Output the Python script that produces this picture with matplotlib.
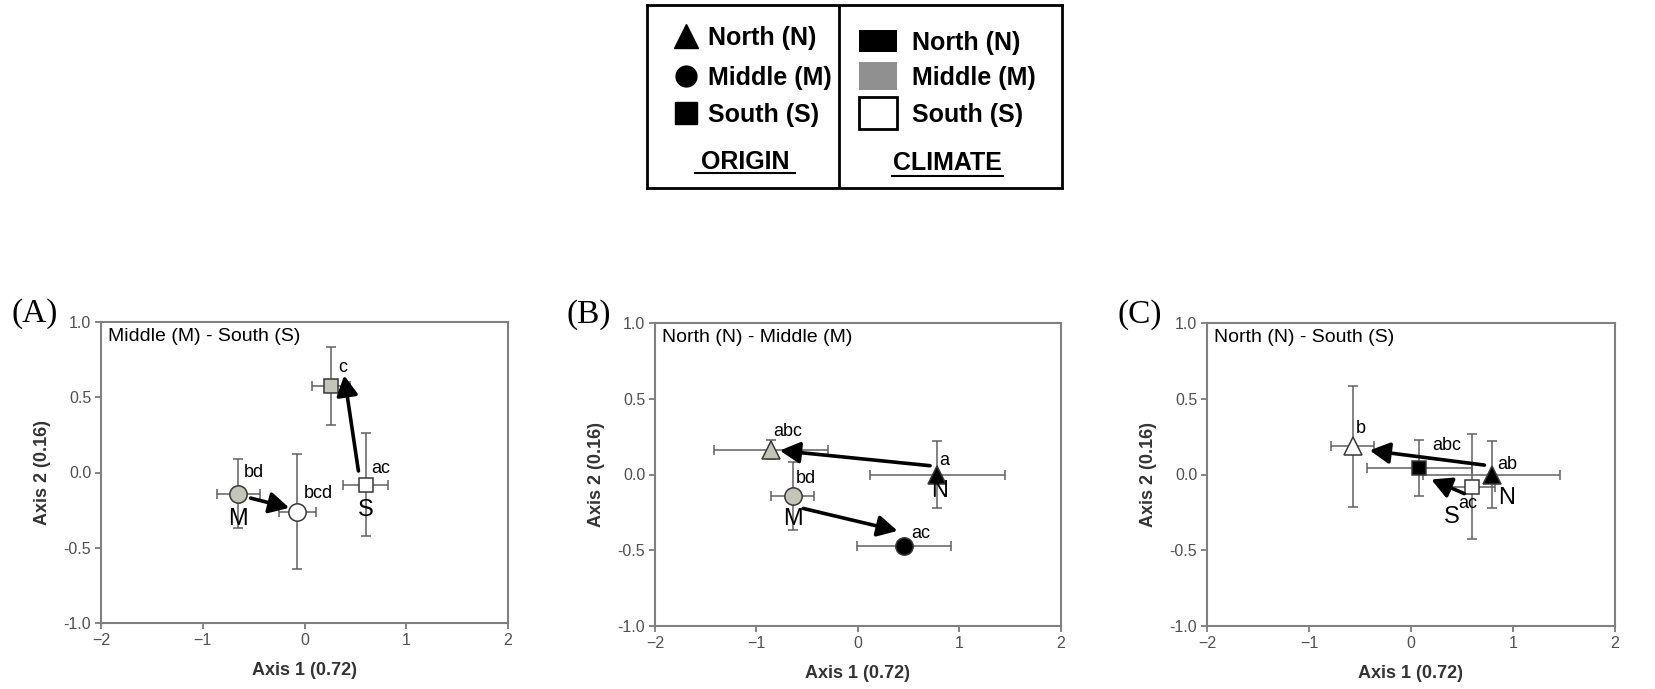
import matplotlib.pyplot as plt
from matplotlib.patches import Rectangle

plt.rcParams['font.family'] = ['Liberation Sans', 'DejaVu Sans']

# Ordination scores (mean +/- error) for each origin x climate combination

# (A) Middle (M) - South (S)
a_origin = ['M', 'M', 'S', 'S']
a_climate = ['M', 'S', 'M', 'S']
a_x = [-0.65, -0.07, 0.26, 0.60]
a_y = [-0.14, -0.26, 0.575, -0.08]
a_xerr = [0.21, 0.18, 0.19, 0.22]
a_yerr = [0.23, 0.38, 0.26, 0.345]
a_groups = ['bd', 'bcd', 'c', 'ac']
a_sites = ['M', '', '', 'S']
a_arrows = [((-0.53, -0.17), (-0.15, -0.235)),
            ((0.53, 0.01), (0.39, 0.645))]

# (B) North (N) - Middle (M)
b_origin = ['N', 'N', 'M', 'M']
b_climate = ['N', 'M', 'M', 'N']
b_x = [0.78, -0.86, -0.645, 0.455]
b_y = [0.0, 0.165, -0.14, -0.47]
b_xerr = [0.665, 0.56, 0.21, 0.46]
b_yerr = [0.22, 0.065, 0.225, 0.0]
b_groups = ['a', 'abc', 'bd', 'ac']
b_sites = ['N', '', 'M', '']
b_arrows = [((0.71, 0.058), (-0.77, 0.158)),
            ((-0.54, -0.224), (0.39, -0.372))]

# (C) North (N) - South (S)
c_origin = ['N', 'N', 'S', 'S']
c_climate = ['N', 'S', 'S', 'N']
c_x = [0.79, -0.57, 0.60, 0.08]
c_y = [0.0, 0.185, -0.08, 0.04]
c_xerr = [0.67, 0.21, 0.22, 0.515]
c_yerr = [0.22, 0.40, 0.345, 0.185]
c_groups = ['ab', 'b', 'ac', 'abc']
c_sites = ['N', '', 'S', '']
c_arrows = [((0.72, 0.062), (-0.405, 0.159)),
            ((0.523, -0.126), (0.199, -0.033))]

x_ticks = [-2, -1, 0, 1, 2]
y_ticks = [-1.0, -0.5, 0.0, 0.5, 1.0]

# styles
shape = {'N': '^', 'M': 'o', 'S': 's'}
msize = {'N': 13, 'M': 12.5, 'S': 10.5}
fill = {'N': 'black', 'M': '#c4c4b8', 'S': 'white'}

# letter / site label offsets in points
a_group_off = [(10.8, 15), (14.9, 13.2), (8.2, 13.2), (10.8, 11.3)]
a_site_off = [(0, -18.5), None, None, (0, -18)]
b_group_off = [(4.8, 10.3), (12.5, 12.7), (9.6, 12.7), (12, 8.9)]
b_site_off = [(1.9, -12), None, (0.5, -16.8), None]
c_group_off = [(11.3, 7.4), (5.5, 12.7), (-2.9, -12), (19.9, 16.6)]
c_site_off = [(10.6, -16.6), None, (-14.9, -21.6), None]

W, H = 1656, 689
fig = plt.figure(figsize=(W / 100, H / 100), dpi=100)


def box(l, t, r, b):
    return [l / W, 1 - b / H, (r - l) / W, (b - t) / H]


def draw_panel(rect, tag, title, origin, climate, x, y, xerr, yerr,
               groups, sites, arrows, group_off, site_off):
    ax = fig.add_axes(box(*rect))
    for i in range(len(x)):
        ax.errorbar(x[i], y[i], xerr=xerr[i], yerr=yerr[i] if yerr[i] else None,
                    fmt='none', ecolor='#606060', elinewidth=1.1, capsize=3.5,
                    capthick=1.1, zorder=2)
        ax.plot(x[i], y[i], marker=shape[origin[i]], ms=msize[origin[i]],
                mfc=fill[climate[i]], mec='#383838', mew=1.1, ls='none', zorder=3)
        ax.annotate(groups[i], (x[i], y[i]), xytext=group_off[i],
                    textcoords='offset points', ha='center', va='center',
                    fontsize=13, zorder=5)
        if sites[i]:
            ax.annotate(sites[i], (x[i], y[i]), xytext=site_off[i],
                        textcoords='offset points', ha='center', va='center',
                        fontsize=17, zorder=5)
    for start, end in arrows:
        ax.annotate('', xy=end, xytext=start,
                    arrowprops=dict(arrowstyle='-|>,head_length=0.6,head_width=0.32',
                                    lw=2.6, color='black', mutation_scale=20,
                                    shrinkA=0, shrinkB=0), zorder=4)
    ax.set_xlim(-2, 2)
    ax.set_ylim(-1, 1)
    ax.set_xticks(x_ticks)
    ax.set_yticks(y_ticks)
    ax.set_yticklabels(['%.1f' % v for v in y_ticks])
    ax.tick_params(direction='out', length=4, width=1.2, color='#707070',
                   labelcolor='#505050', labelsize=11.5, pad=3)
    for s in ax.spines.values():
        s.set_color('#808080')
        s.set_linewidth(1.5)
    ax.set_xlabel('Axis 1 (0.72)', fontsize=13, fontweight='bold',
                  color='#333333', labelpad=10)
    ax.set_ylabel('Axis 2 (0.16)', fontsize=13, fontweight='bold',
                  color='#333333', labelpad=9)
    ax.text(0.018, 0.952, title, transform=ax.transAxes, ha='left',
            va='center', fontsize=14)
    fig.text((rect[0] - 89) / W, 1 - (rect[1] - 8) / H, tag,
             family='Liberation Serif', fontsize=24, ha='left', va='center')
    return ax


draw_panel((101, 322, 508, 623), '(A)', 'Middle (M) - South (S)',
           a_origin, a_climate, a_x, a_y, a_xerr, a_yerr,
           a_groups, a_sites, a_arrows, a_group_off, a_site_off)
draw_panel((655, 323, 1061, 626), '(B)', 'North (N) - Middle (M)',
           b_origin, b_climate, b_x, b_y, b_xerr, b_yerr,
           b_groups, b_sites, b_arrows, b_group_off, b_site_off)
draw_panel((1207, 323, 1615, 626), '(C)', 'North (N) - South (S)',
           c_origin, c_climate, c_x, c_y, c_xerr, c_yerr,
           c_groups, c_sites, c_arrows, c_group_off, c_site_off)

# key: origin (shape) and climate (fill)
leg = fig.add_axes(box(647, 5, 1062, 188))
leg.set_xlim(647, 1062)
leg.set_ylim(188, 5)
leg.set_xticks([])
leg.set_yticks([])
for s in leg.spines.values():
    s.set_linewidth(2)
leg.axvline(839, color='black', lw=2)

names = ['North (N)', 'Middle (M)', 'South (S)']
codes = ['N', 'M', 'S']
leg_ms = {'N': 17, 'M': 15, 'S': 16}
for code, name, yy in zip(codes, names, [36, 76, 113]):
    leg.plot(686, yy, marker=shape[code], ms=leg_ms[code], color='black',
             ls='none')
    leg.text(708, yy + 2, name, fontsize=18, fontweight='bold', va='center')

rect_h = {'N': 23, 'M': 28, 'S': 32}
rect_fill = {'N': 'black', 'M': '#909090', 'S': 'white'}
for code, name, yy in zip(codes, names, [41, 76, 113]):
    h = rect_h[code]
    leg.add_patch(Rectangle((859, yy - h / 2), 38, h, facecolor=rect_fill[code],
                            edgecolor='black' if code == 'S' else 'none', lw=2))
    leg.text(912, yy + 2, name, fontsize=18, fontweight='bold', va='center')

leg.text(745, 162, 'ORIGIN', fontsize=18, fontweight='bold', ha='center', va='center')
leg.plot([695, 795], [173, 173], color='black', lw=1.5)
leg.text(947, 163, 'CLIMATE', fontsize=18, fontweight='bold', ha='center', va='center')
leg.plot([892, 1003], [176, 176], color='black', lw=1.5)

plt.savefig('out.png', dpi=100)
